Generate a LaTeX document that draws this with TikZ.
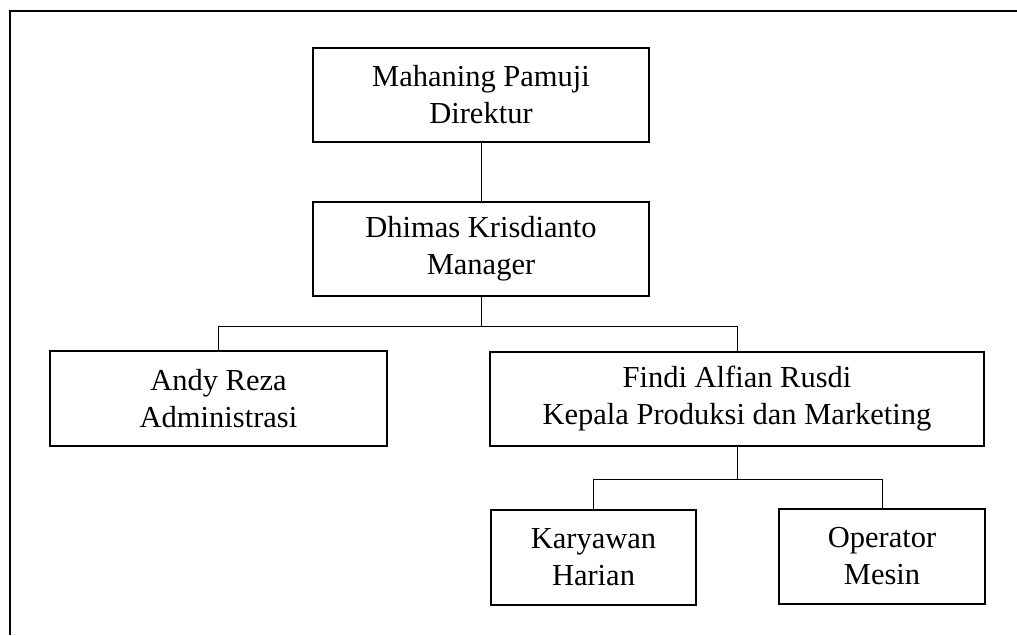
\documentclass[tikz,border=0pt]{standalone}
\usepackage{fontspec}
\setmainfont{Liberation Serif}
\begin{document}
\begin{tikzpicture}[x=1pt,y=-1pt,
  box/.style={draw,line width=1.3pt,inner sep=0pt,align=center,
    font=\fontsize{30.5}{37}\selectfont},
  link/.style={line width=0.8pt},
  frame/.style={line width=1.4pt}]
\useasboundingbox (0,0) rectangle (1017,635);
\coordinate (ftl) at (10,11);
\coordinate (ftr) at (1017,11);
\coordinate (fbl) at (10,635);
\draw[frame] (ftr) -- (ftl) -- (fbl);
\node[box,minimum width=336pt,minimum height=94pt] (dir) at (481,95) {Mahaning Pamuji\\Direktur};
\node[box,minimum width=336pt,minimum height=94pt] (man) at (481,249) {Dhimas Krisdianto\\Manager};
\node[box,minimum width=337pt,minimum height=95pt] (adm) at (218.5,398.5) {Andy Reza\\Administrasi};
\node[box,minimum width=494pt,minimum height=94pt] (kep) at (737,399) {Findi Alfian Rusdi\\Kepala Produksi dan Marketing};
\node[box,minimum width=205pt,minimum height=95pt] (kar) at (593.5,557.5) {Karyawan\\Harian};
\node[box,minimum width=206pt,minimum height=95pt] (op) at (882,556.5) {Operator\\Mesin};
\draw[link] (dir.south) -- (man.north);
\draw[link] (man.south) -- ++(0,30) coordinate (j1);
\draw[link] (adm.north) |- (j1) -| (kep.north);
\draw[link] (kep.south) -- ++(0,33) coordinate (j2);
\draw[link] (kar.north) |- (j2) -| (op.north);
\end{tikzpicture}
\end{document}
